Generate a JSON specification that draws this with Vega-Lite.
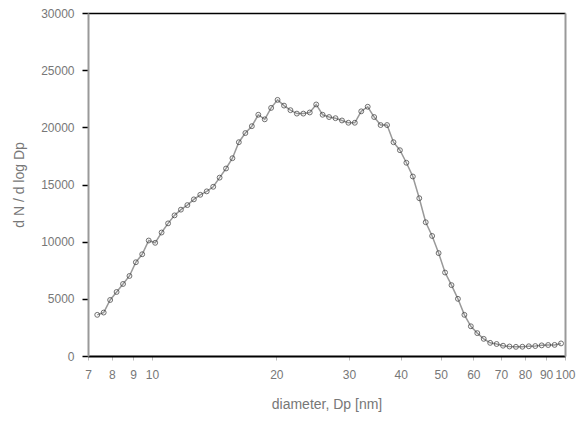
{
  "$schema": "https://vega.github.io/schema/vega-lite/v6.json",
  "autosize": "none",
  "width": 477,
  "height": 343,
  "padding": {"left": 88, "top": 13, "right": 12, "bottom": 67},
  "background": "white",
  "config": {
    "view": {"stroke": null},
    "font": "Liberation Sans",
    "axis": {"grid": false, "labelFont": "Liberation Sans", "titleFont": "Liberation Sans", "labelColor": "#777", "titleColor": "#777", "titleFontWeight": "normal"}
  },
  "data": {"values": [
    {"d": 7.37, "n": 3600}, {"d": 7.64, "n": 3800}, {"d": 7.92, "n": 4900}, {"d": 8.21, "n": 5600},
    {"d": 8.51, "n": 6300}, {"d": 8.82, "n": 7000}, {"d": 9.14, "n": 8200}, {"d": 9.47, "n": 8900},
    {"d": 9.82, "n": 10100}, {"d": 10.18, "n": 9900}, {"d": 10.55, "n": 10800}, {"d": 10.94, "n": 11600},
    {"d": 11.34, "n": 12300}, {"d": 11.75, "n": 12800}, {"d": 12.18, "n": 13200}, {"d": 12.63, "n": 13700},
    {"d": 13.09, "n": 14100}, {"d": 13.57, "n": 14400}, {"d": 14.07, "n": 14800}, {"d": 14.58, "n": 15600},
    {"d": 15.11, "n": 16400}, {"d": 15.66, "n": 17300}, {"d": 16.23, "n": 18700}, {"d": 16.83, "n": 19500},
    {"d": 17.45, "n": 20100}, {"d": 18.09, "n": 21100}, {"d": 18.75, "n": 20700}, {"d": 19.43, "n": 21700},
    {"d": 20.14, "n": 22400}, {"d": 20.88, "n": 21900}, {"d": 21.64, "n": 21500}, {"d": 22.43, "n": 21200},
    {"d": 23.25, "n": 21200}, {"d": 24.10, "n": 21300}, {"d": 24.98, "n": 22000}, {"d": 25.89, "n": 21100},
    {"d": 26.84, "n": 20900}, {"d": 27.82, "n": 20800}, {"d": 28.84, "n": 20600}, {"d": 29.89, "n": 20400},
    {"d": 30.98, "n": 20400}, {"d": 32.11, "n": 21400}, {"d": 33.29, "n": 21800}, {"d": 34.51, "n": 20900},
    {"d": 35.77, "n": 20200}, {"d": 37.08, "n": 20200}, {"d": 38.44, "n": 18700}, {"d": 39.84, "n": 18000},
    {"d": 41.30, "n": 16900}, {"d": 42.81, "n": 15700}, {"d": 44.38, "n": 13800}, {"d": 46.00, "n": 11700},
    {"d": 47.68, "n": 10500}, {"d": 49.43, "n": 9000}, {"d": 51.24, "n": 7300}, {"d": 53.11, "n": 6200},
    {"d": 55.05, "n": 5000}, {"d": 57.07, "n": 3600}, {"d": 59.16, "n": 2600}, {"d": 61.32, "n": 2000},
    {"d": 63.56, "n": 1500}, {"d": 65.89, "n": 1150}, {"d": 68.30, "n": 1050}, {"d": 70.80, "n": 900},
    {"d": 73.39, "n": 830}, {"d": 76.07, "n": 800}, {"d": 78.85, "n": 810}, {"d": 81.74, "n": 850},
    {"d": 84.73, "n": 870}, {"d": 87.83, "n": 930}, {"d": 91.04, "n": 960}, {"d": 94.37, "n": 970},
    {"d": 97.82, "n": 1100}
  ]},
  "layer": [
    {
      "mark": {"type": "line", "color": "#999", "strokeWidth": 1.5},
      "encoding": {
        "x": {"field": "d", "type": "quantitative",
          "scale": {"type": "log", "domain": [7, 100], "nice": false},
          "axis": {"orient": "bottom", "title": "diameter, Dp [nm]", "values": [7, 8, 9, 10, 20, 30, 40, 50, 60, 70, 80, 90, 100], "format": "d",
            "domainColor": "black", "domainWidth": 2, "tickColor": "#bbb", "tickSize": 4, "labelPadding": 9, "labelFontSize": 12,
            "titleFontSize": 14, "titlePadding": 17, "labelFlush": false, "labelOverlap": false}},
        "y": {"field": "n", "type": "quantitative",
          "scale": {"domain": [0, 30000], "nice": false},
          "axis": {"orient": "left", "title": "d N / d log Dp", "values": [0, 5000, 10000, 15000, 20000, 25000, 30000], "format": "d",
            "domainColor": "#999", "domainWidth": 2, "tickColor": "black", "tickSize": 6, "tickWidth": 1.5, "labelPadding": 8, "labelFontSize": 12,
            "titleFontSize": 14, "titlePadding": 14}}
      }
    },
    {
      "mark": {"type": "point", "filled": false, "color": "#333", "size": 24, "strokeWidth": 1},
      "encoding": {
        "x": {"field": "d", "type": "quantitative",
          "scale": {"type": "log", "domain": [7, 100], "nice": false},
          "axis": {"orient": "top", "title": null, "labels": false, "ticks": false, "domainColor": "black", "domainWidth": 1.5}},
        "y": {"field": "n", "type": "quantitative",
          "scale": {"domain": [0, 30000], "nice": false},
          "axis": {"orient": "right", "title": null, "labels": false, "ticks": false, "domainColor": "#999", "domainWidth": 2}}
      }
    }
  ],
  "resolve": {"axis": {"x": "independent", "y": "independent"}}
}
